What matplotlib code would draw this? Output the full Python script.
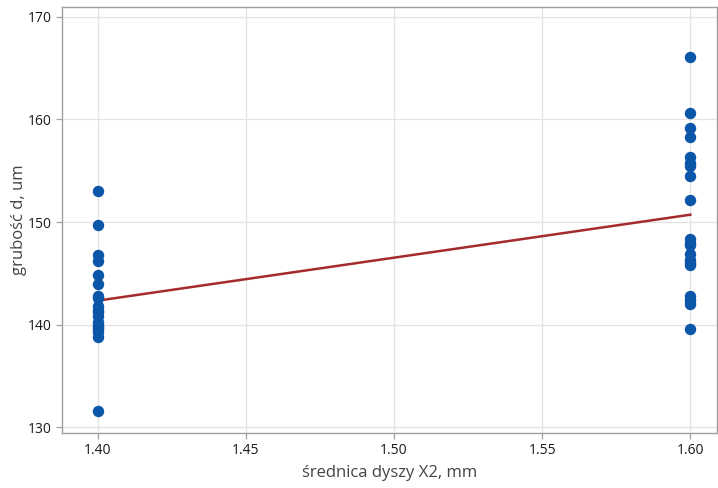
import numpy as np
import matplotlib.pyplot as plt

plt.rcParams['font.family'] = ['Open Sans', 'DejaVu Sans']

# dane
x_left = 1.40
y_left = [153.0, 149.7, 146.8, 146.2, 144.8, 144.0, 142.8, 142.6, 141.8, 141.4,
          141.2, 140.8, 140.3, 140.0, 139.8, 139.6, 139.3, 138.8, 131.6]
x_right = 1.60
y_right = [166.1, 160.6, 159.2, 158.3, 156.3, 155.8, 155.5, 154.5, 152.1, 148.3,
           148.0, 147.8, 146.9, 146.3, 146.0, 145.8, 142.8, 142.4, 142.0, 139.6]

x = np.array([x_left] * len(y_left) + [x_right] * len(y_right))
y = np.array(y_left + y_right)

xticks = [1.40, 1.45, 1.50, 1.55, 1.60]
yticks = [130, 140, 150, 160, 170]

fig = plt.figure(figsize=(7.18, 4.88), dpi=100)
ax = fig.add_axes([0.0864, 0.1127, 0.9122, 0.873])

# linia regresji
a, b = np.polyfit(x, y, 1)
xl = np.array([x_left, x_right])
ax.plot(xl, a * xl + b, color='#a52a2a', lw=1.8, zorder=2)

ax.scatter(x, y, s=68, color='#0b56a8', zorder=3, linewidths=0)

ax.set_xlim(1.388, 1.609)
ax.set_ylim(129.45, 170.95)
ax.set_xticks(xticks)
ax.set_xticklabels([f'{t:.2f}' for t in xticks])
ax.set_yticks(yticks)
ax.grid(True, color='#e3e3e3', lw=0.9, zorder=0)
ax.set_axisbelow(True)

for s in ax.spines.values():
    s.set_color('#a0a0a0')
    s.set_linewidth(1.0)
ax.tick_params(axis='both', colors='#a0a0a0', labelcolor='#1a1a1a',
               labelsize=10, length=4, width=0.9)

ax.set_xlabel('średnica dyszy X2, mm', fontsize=12, color='#444444')
ax.set_ylabel('grubość d, um', fontsize=12, color='#444444')
ax.xaxis.set_label_coords(0.5, -0.076)
ax.yaxis.set_label_coords(-0.053, 0.5)

fig.savefig('out.png', dpi=100)
